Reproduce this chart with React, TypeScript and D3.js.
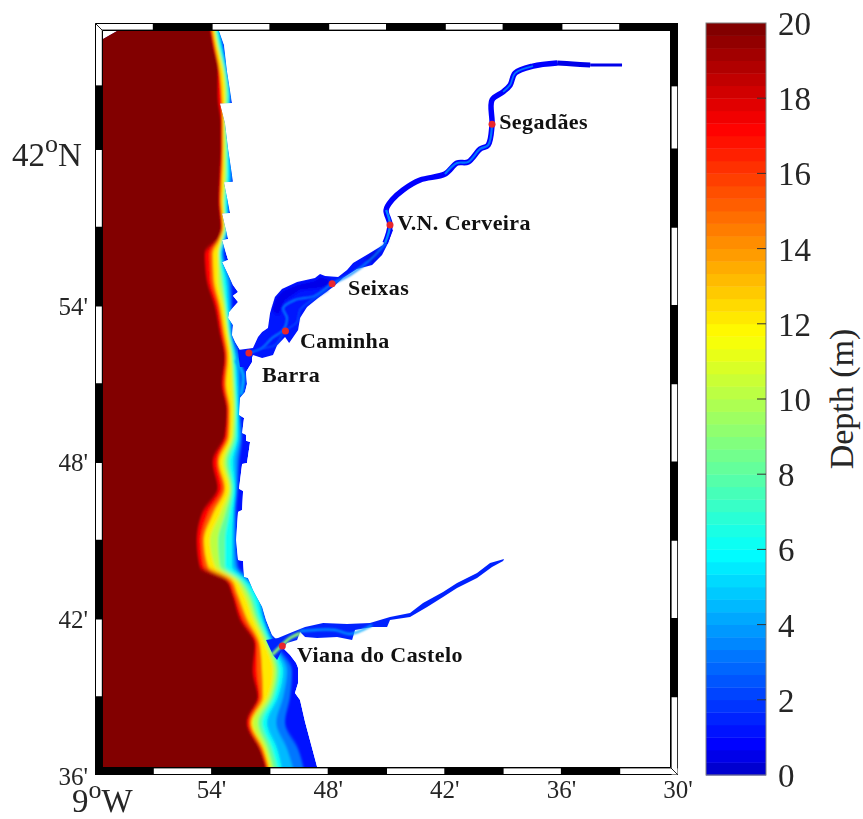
import React from "react";
import * as d3 from "d3";

// lon = minutes east of 9W, lat = minutes north of 41N
const latRows = [64.9, 64, 63, 62, 61, 60, 59, 58, 57, 56.5, 56, 55, 54, 53, 52, 51, 50, 49, 48, 47, 46, 45, 44, 43.5, 43, 42, 41, 40, 39, 38, 37, 36];
const iso20 = [5.87, 6.07, 6.33, 6.33, 6.49, 6.49, 6.43, 6.38, 6.49, 6.28, 5.66, 5.76, 6.18, 6.43, 6.69, 6.54, 6.79, 6.69, 6.07, 6.33, 5.51, 5.25, 5.40, 6.74, 7.05, 7.46, 8.24, 8.13, 8.39, 7.82, 8.49, 8.90];
const iso17 = [5.92, 6.12, 6.38, 6.49, 6.54, 6.54, 6.49, 6.43, 6.54, 6.33, 5.92, 5.97, 6.33, 6.54, 6.74, 6.64, 6.85, 6.79, 6.28, 6.54, 5.82, 5.46, 5.61, 6.85, 7.15, 7.62, 8.34, 8.34, 8.49, 7.93, 8.54, 8.96];
const iso15 = [5.97, 6.18, 6.43, 6.54, 6.59, 6.59, 6.54, 6.49, 6.59, 6.38, 6.07, 6.12, 6.43, 6.64, 6.85, 6.74, 6.95, 6.90, 6.38, 6.69, 6.07, 5.61, 5.82, 7.00, 7.31, 7.82, 8.49, 8.60, 8.65, 8.03, 8.65, 9.01];
const iso12 = [6.07, 6.28, 6.59, 6.69, 6.64, 6.64, 6.64, 6.59, 6.64, 6.49, 6.33, 6.33, 6.59, 6.79, 7.00, 7.05, 7.10, 7.05, 6.59, 6.90, 6.43, 5.92, 6.18, 7.21, 7.62, 8.13, 8.75, 9.16, 8.90, 8.13, 8.75, 9.11];
const iso10 = [6.12, 6.33, 6.64, 6.74, 6.69, 6.74, 6.74, 6.64, 6.69, 6.54, 6.38, 6.49, 6.69, 6.85, 7.05, 7.15, 7.21, 7.15, 6.74, 7.00, 6.69, 6.33, 6.43, 7.36, 7.82, 8.29, 8.90, 9.32, 9.06, 8.39, 8.90, 9.26];
const iso8 = [6.18, 6.38, 6.69, 6.85, 6.74, 6.79, 6.79, 6.69, 6.74, 6.59, 6.43, 6.59, 6.74, 6.90, 7.15, 7.21, 7.26, 7.26, 6.90, 7.10, 6.90, 6.69, 6.69, 7.51, 7.98, 8.44, 9.01, 9.47, 9.21, 8.60, 9.11, 9.47];
const iso6 = [6.23, 6.49, 6.74, 6.90, 6.79, 6.85, 6.90, 6.79, 6.79, 6.64, 6.49, 6.74, 6.85, 6.95, 7.21, 7.31, 7.36, 7.36, 7.10, 7.21, 7.10, 7.05, 7.05, 7.72, 8.24, 8.60, 9.11, 9.68, 9.42, 8.85, 9.37, 9.68];
const iso4 = [6.28, 6.54, 6.79, 6.95, 6.85, 6.90, 6.95, 6.85, 6.85, 6.69, 6.54, 6.85, 6.95, 7.00, 7.31, 7.41, 7.41, 7.46, 7.26, 7.26, 7.15, 7.15, 7.21, 7.82, 8.34, 8.70, 9.21, 9.88, 9.68, 9.32, 9.88, 10.29];
const iso3 = [6.33, 6.59, 6.85, 7.00, 6.85, 6.95, 7.10, 6.90, 6.90, 6.74, 6.64, 7.00, 7.05, 7.05, 7.46, 7.51, 7.46, 7.57, 7.41, 7.36, 7.26, 7.26, 7.36, 7.93, 8.49, 8.75, 9.32, 10.14, 10.04, 9.78, 10.45, 10.81];
const isobaths: [number, number[]][] = [[3, iso3], [4.5, iso4], [6, iso6], [8, iso8], [10, iso10], [12, iso12], [15, iso15], [17, iso17], [19.8, iso20]];

const coast = [[1.13, 64.52], [6.38, 64.52], [6.64, 63.99], [6.79, 62.99], [7.05, 61.76], [6.43, 61.74], [6.69, 61.00], [6.85, 60.00], [7.10, 58.74], [6.64, 58.72], [6.95, 57.55], [6.54, 57.53], [6.85, 56.55], [6.54, 56.51], [6.85, 55.74], [6.54, 55.67], [7.10, 54.79], [7.36, 54.52], [7.10, 54.37], [7.36, 54.13], [6.90, 53.75], [6.85, 53.52], [7.10, 53.25], [7.05, 52.87], [7.21, 52.60], [7.46, 52.29], [8.08, 52.06], [8.08, 51.83], [7.77, 51.45], [7.82, 50.99], [7.72, 50.68], [7.46, 50.45], [7.41, 49.80], [7.67, 49.69], [7.57, 49.11], [7.77, 49.04], [7.77, 48.81], [7.98, 48.77], [7.82, 47.96], [7.57, 47.92], [7.41, 46.97], [7.62, 46.89], [7.57, 46.16], [7.36, 46.08], [7.26, 45.01], [7.36, 44.24], [7.62, 44.20], [7.67, 43.59], [7.87, 43.55], [8.13, 43.09], [8.60, 42.44], [8.80, 41.94], [9.11, 41.37], [9.37, 41.18], [9.78, 40.79], [10.04, 40.60], [10.35, 40.29], [10.45, 40.10], [10.45, 39.53], [10.29, 39.14], [10.55, 38.88], [10.81, 38.03], [11.43, 36.31], [0.41, 36.31], [0.41, 64.22]];

const minhoEstuary = [[7.36, 52.29], [8.13, 52.37], [8.39, 52.79], [8.60, 52.98], [8.90, 53.14], [9.01, 53.71], [9.26, 54.33], [9.62, 54.63], [10.40, 54.90], [11.32, 55.05], [11.58, 55.21], [11.84, 55.13], [12.51, 55.09], [12.97, 55.36], [13.28, 55.63], [14.15, 56.01], [14.82, 56.32], [15.08, 56.70], [15.18, 56.97], [15.34, 56.89], [15.03, 56.32], [14.77, 55.94], [14.26, 55.55], [13.48, 55.40], [12.76, 55.05], [12.25, 54.71], [11.48, 54.29], [10.91, 53.94], [10.55, 53.52], [10.45, 53.06], [9.99, 52.56], [9.78, 52.79], [9.37, 52.48], [9.16, 52.10], [8.60, 51.99], [8.13, 52.10], [7.87, 51.64], [7.46, 51.64]];
const minhoFlatNorth = [[9.11, 53.83], [9.32, 54.29], [9.68, 54.56], [10.40, 54.79], [11.32, 54.94], [11.58, 55.09], [12.10, 54.98], [11.84, 54.71], [10.55, 54.60], [9.78, 54.21], [9.42, 53.64]];
const minhoFlatEast = [[13.90, 55.75], [14.46, 56.09], [14.77, 56.13], [14.26, 55.67]];
const minhoChannel = [[7.93, 52.18], [8.60, 52.37], [9.11, 52.75], [9.68, 53.06], [9.88, 53.52], [9.68, 53.90], [10.29, 54.21], [11.32, 54.37], [12.20, 54.83], [13.12, 55.17], [14.26, 55.82], [15.08, 56.51]];
const minhoSideChannel = [[8.60, 52.37], [9.26, 52.48], [9.78, 53.02], [10.40, 53.37], [10.55, 53.83], [11.17, 54.21], [11.99, 54.60]];
const barraChannel = [[7.26, 51.91], [7.62, 51.34], [7.51, 50.57]];
const minhoRiver = [[14.93, 56.40], [15.18, 57.09], [14.98, 57.66], [15.29, 58.05], [15.85, 58.43], [16.73, 58.81], [18.01, 59.04], [18.63, 59.46], [19.20, 59.50], [19.82, 60.00], [20.23, 60.15], [20.43, 60.92], [20.43, 61.88], [21.00, 62.19], [21.36, 62.45], [21.62, 62.91], [22.54, 63.18], [23.78, 63.30]];
const minhoTail = [[23.78, 63.30], [24.60, 63.26], [25.48, 63.22], [27.12, 63.22]];

const limaEstuary = [[8.80, 41.18], [9.42, 41.25], [10.04, 41.44], [10.81, 41.67], [11.74, 41.83], [12.97, 41.79], [14.15, 41.83], [15.18, 42.06], [16.21, 42.21], [16.88, 42.59], [17.91, 43.02], [18.63, 43.36], [19.66, 43.74], [20.33, 44.13], [21.05, 44.28], [21.00, 44.20], [20.43, 43.97], [19.66, 43.55], [18.63, 43.17], [17.91, 42.82], [17.09, 42.44], [16.21, 42.06], [15.18, 41.94], [15.03, 41.67], [14.67, 41.67], [14.26, 41.67], [13.38, 41.56], [13.23, 41.18], [12.46, 41.29], [11.43, 41.25], [10.81, 41.29], [10.55, 41.48], [10.40, 41.18], [9.88, 41.06], [9.62, 40.79], [9.37, 40.41], [9.16, 40.60]];
const limaChannel = [[10.55, 41.52], [11.32, 41.56], [12.35, 41.56], [13.12, 41.41], [14.26, 41.75]];
const limaShoal = [[9.11, 40.60], [9.62, 40.98], [10.04, 41.25], [10.55, 41.44]];

const stationNames = ["Segadães", "V.N. Cerveira", "Seixas", "Caminha", "Barra", "Viana do Castelo"];
const stationLon = [20.43, 15.18, 12.20, 9.80, 7.92, 9.64];
const stationLat = [60.95, 57.09, 54.83, 53.02, 52.18, 40.95];
const labelLon = [20.8, 15.55, 13.02, 10.55, 8.59, 10.40];
const labelLat = [60.76, 56.89, 54.39, 52.37, 51.06, 40.32];

const lonTicks = [6, 12, 18, 24, 30];
const lonLabels = ["54'", "48'", "42'", "36'", "30'"];
const latTicks = [54, 48, 42, 36];
const latLabels = ["54'", "48'", "42'", "36'"];
const lonEdges = [0, 3, 6, 9, 12, 15, 18, 21, 24, 27, 30];
const latEdges = [64.83, 62.42, 60, 57, 54, 51, 48, 45, 42, 39, 36];
const depthTicks = [0, 2, 4, 6, 8, 10, 12, 14, 16, 18, 20];

const x = d3.scaleLinear().domain([0, 30]).range([95, 678]);
const y = d3.scaleLinear().domain([36, 64.83]).range([775, 23]);
const cbY = d3.scaleLinear().domain([0, 20]).range([775, 23]);

const jetRamp = d3.scaleLinear<string>()
  .domain([0, 0.8, 5.9, 11.7, 17.2, 20])
  .range(["#0000c4", "#0000ff", "#00ffff", "#ffff00", "#ff0000", "#7a0000"]);
const levels = d3.range(60);
const depthColor = (d: number) => jetRamp((Math.min(59, Math.floor((d / 20) * 60)) + 0.5) / 3);

const outline = d3.line<number[]>().x(d => x(d[0])).y(d => y(d[1])).curve(d3.curveLinearClosed);
const path = d3.line<number[]>().x(d => x(d[0])).y(d => y(d[1])).curve(d3.curveCatmullRom);

const serif = "'Liberation Serif', 'Times New Roman', serif";
const ink = "#262626";

function bandCells() {
  const cells: { x: number; y: number; w: number; h: number }[] = [];
  lonEdges.slice(1).forEach((e, i) => {
    const x0 = x(lonEdges[i]), x1 = x(e);
    if (i % 2 === 0) cells.push({ x: x0 + 1, y: 24, w: x1 - x0 - 1.5, h: 5.6 });
    else cells.push({ x: x0 + 0.5, y: 768.4, w: x1 - x0 - 1, h: 5.6 });
  });
  latEdges.slice(1).forEach((e, i) => {
    const y0 = y(latEdges[i]), y1 = y(e);
    if (i % 2 === 0) cells.push({ x: 96, y: y0 + 1, w: 5.8, h: y1 - y0 - 1.5 });
    else cells.push({ x: 671.6, y: y0 + 0.5, w: 5.6, h: y1 - y0 - 1 });
  });
  return cells;
}

export default function App() {
  const band = d3.area<number>()
    .x0(x(0))
    .y((_, i) => y(latRows[i]))
    .curve(d3.curveMonotoneY);

  return (
    <svg width={863} height={819} viewBox="0 0 863 819" style={{ position: "absolute", left: 0, top: 0, display: "block", background: "#fff" }} fontFamily={serif}>
      <defs>
        <clipPath id="coastClip"><path d={outline(coast)!} /></clipPath>
        <filter id="soft" filterUnits="userSpaceOnUse" x="0" y="0" width="863" height="819">
          <feGaussianBlur stdDeviation="1.3 2" />
        </filter>
        <filter id="softer" filterUnits="userSpaceOnUse" x="0" y="0" width="863" height="819">
          <feGaussianBlur stdDeviation="0.8" />
        </filter>
        <filter id="edge" filterUnits="userSpaceOnUse" x="0" y="0" width="863" height="819">
          <feGaussianBlur stdDeviation="0.4" />
        </filter>
      </defs>

      {/* axes box */}
      <rect x={95} y={23} width={583} height={752} fill="#000" />
      <rect x={103} y={31} width={567} height={736} fill="#fff" />
      {bandCells().map((c, i) => <rect key={i} x={c.x} y={c.y} width={c.w} height={c.h} fill="#fff" />)}
      <line x1={95} y1={23} x2={103} y2={31} stroke="#222" strokeWidth={1} />
      <line x1={670} y1={767} x2={678} y2={775} stroke="#222" strokeWidth={1} />

      {/* ocean */}
      <g clipPath="url(#coastClip)">
        <path d={outline(coast)!} fill={depthColor(1)} />
        <g filter="url(#soft)">
          {isobaths.map(([depth, iso]) => (
            <path key={depth} d={band.x1((_, i) => x(iso[i]))(latRows)!} fill={depthColor(depth)} />
          ))}
        </g>
        <path d={path(barraChannel)!} fill="none" stroke={depthColor(4)} strokeWidth={4} filter="url(#softer)" />
      </g>

      {/* Minho */}
      <g filter="url(#edge)">
        <path d={outline(minhoEstuary)!} fill={depthColor(1.2)} />
        <path d={outline(minhoFlatNorth)!} fill={depthColor(0.4)} filter="url(#softer)" />
        <path d={outline(minhoFlatEast)!} fill={depthColor(0.2)} filter="url(#softer)" />
        <path d={path(minhoChannel)!} fill="none" stroke={depthColor(3.4)} strokeWidth={2} filter="url(#softer)" />
        <path d={path(minhoSideChannel)!} fill="none" stroke={depthColor(2.6)} strokeWidth={1.6} filter="url(#softer)" />
        <path d={path(minhoRiver)!} fill="none" stroke={depthColor(0.7)} strokeWidth={5.5} />
        <path d={path(minhoRiver.slice(0, 3))!} fill="none" stroke={depthColor(3.6)} strokeWidth={2.4} />
        <path d={path(minhoRiver.slice(6, 12))!} fill="none" stroke={depthColor(3.2)} strokeWidth={2.2} />
        <path d={path(minhoRiver.slice(13, 17))!} fill="none" stroke={depthColor(3)} strokeWidth={1.8} />
        <path d={path(minhoTail.slice(0, 3))!} fill="none" stroke={depthColor(0.5)} strokeWidth={5} />
        <path d={path(minhoTail.slice(2))!} fill="none" stroke={depthColor(0.5)} strokeWidth={3.2} />
      </g>

      {/* Lima */}
      <g filter="url(#edge)">
        <path d={outline(limaEstuary)!} fill={depthColor(1.5)} />
        <path d={path(limaChannel)!} fill="none" stroke={depthColor(4)} strokeWidth={2} filter="url(#softer)" />
        <path d={path(limaShoal)!} fill="none" stroke={depthColor(9)} strokeWidth={3} filter="url(#softer)" />
      </g>

      {/* stations */}
      {stationNames.map((name, i) => (
        <g key={name}>
          <circle cx={x(stationLon[i])} cy={y(stationLat[i])} r={3.5} fill="#e8262c" />
          <text x={x(labelLon[i])} y={y(labelLat[i])} fontSize={22} fontWeight="bold" letterSpacing={0.4} fill="#111">{name}</text>
        </g>
      ))}

      {/* axis labels */}
      {lonTicks.map((t, i) => (
        <text key={t} x={x(t)} y={798} fontSize={25} textAnchor="middle" fill={ink}>{lonLabels[i]}</text>
      ))}
      {latTicks.map((t, i) => (
        <text key={t} x={88} y={y(t) + 9.5} fontSize={25} textAnchor="end" fill={ink}>{latLabels[i]}</text>
      ))}
      <text x={12} y={166} fontSize={33} fill={ink}>42<tspan dy={-14} fontSize={26}>o</tspan><tspan dy={14}>N</tspan></text>
      <text x={72} y={811.5} fontSize={33} fill={ink}>9<tspan dy={-14} fontSize={26}>o</tspan><tspan dy={14}>W</tspan></text>

      {/* colorbar */}
      {levels.map(l => (
        <rect key={l} x={706} y={cbY((l + 1) / 3)} width={60} height={cbY(l / 3) - cbY((l + 1) / 3) + 0.4} fill={depthColor((l + 0.5) / 3)} />
      ))}
      <rect x={706} y={23} width={60} height={752} fill="none" stroke="#7f7f7f" strokeWidth={1} />
      {depthTicks.map(t => (
        <g key={t}>
          {t > 0 && t < 20 && <line x1={757} x2={766} y1={cbY(t)} y2={cbY(t)} stroke="#333" strokeWidth={1} />}
          <text x={778} y={cbY(t) + 12} fontSize={33} fill={ink}>{t}</text>
        </g>
      ))}
      <text transform="translate(853,399) rotate(-90)" fontSize={34} textAnchor="middle" fill={ink}>Depth (m)</text>
    </svg>
  );
}
